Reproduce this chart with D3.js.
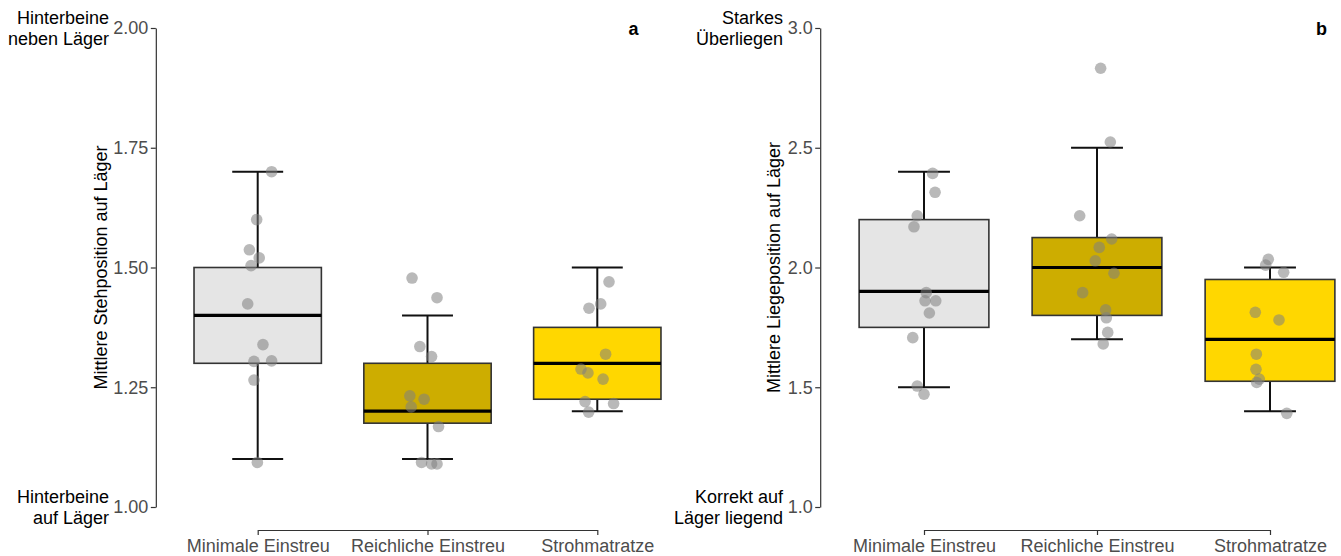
<!DOCTYPE html>
<html>
<head>
<meta charset="utf-8">
<script src="https://cdn.jsdelivr.net/npm/d3@7"></script>
<style>
  body { margin: 0; background: #fff; }
  svg { display: block; font-family: "Liberation Sans", Arial, sans-serif; }
</style>
</head>
<body>
<script>
// Categories and fills
const categories = ['Minimale Einstreu', 'Reichliche Einstreu', 'Strohmatratze'];
const boxFills = ['#e5e5e5', '#cdad00', '#ffd700'];

// Panel a: Stehposition (box stats per category)
const standBoxes = [
  { lo: 1.10, q1: 1.30, med: 1.40, q3: 1.50, hi: 1.70 },
  { lo: 1.10, q1: 1.175, med: 1.20, q3: 1.30, hi: 1.40 },
  { lo: 1.20, q1: 1.225, med: 1.30, q3: 1.375, hi: 1.50 }
];
const standValues = [
  [1.70, 1.60, 1.537, 1.52, 1.504, 1.424, 1.339, 1.304, 1.305, 1.265, 1.093],
  [1.478, 1.437, 1.335, 1.314, 1.232, 1.225, 1.209, 1.168, 1.093, 1.09, 1.09],
  [1.47, 1.424, 1.415, 1.319, 1.288, 1.28, 1.267, 1.22, 1.216, 1.198]
];
// jitter offsets in category units
const standJitter = [
  [0.082, -0.006, -0.049, 0.009, -0.039, -0.059, 0.031, -0.022, 0.082, -0.022, -0.002],
  [-0.091, 0.056, -0.045, 0.024, -0.104, -0.020, -0.096, 0.065, -0.035, 0.024, 0.056],
  [0.069, 0.020, -0.049, 0.049, -0.096, -0.055, 0.034, -0.072, 0.096, -0.051]
];
const standTicks = [1.00, 1.25, 1.50, 1.75, 2.00];

// Panel b: Liegeposition
const lieBoxes = [
  { lo: 1.50, q1: 1.75, med: 1.90, q3: 2.20, hi: 2.40 },
  { lo: 1.70, q1: 1.80, med: 2.00, q3: 2.125, hi: 2.50 },
  { lo: 1.40, q1: 1.525, med: 1.70, q3: 1.95, hi: 2.00 }
];
const lieValues = [
  [2.393, 2.314, 2.216, 2.17, 1.895, 1.861, 1.861, 1.81, 1.707, 1.505, 1.471],
  [2.832, 2.524, 2.216, 2.119, 2.084, 2.028, 1.976, 1.895, 1.823, 1.79, 1.729, 1.681],
  [2.034, 2.01, 1.98, 1.813, 1.781, 1.638, 1.575, 1.534, 1.52, 1.391]
];
const lieJitter = [
  [0.050, 0.064, -0.039, -0.058, 0.013, 0.006, 0.068, 0.031, -0.065, -0.039, 0],
  [0.021, 0.077, -0.100, 0.085, 0.013, -0.010, 0.098, -0.083, 0.050, 0.054, 0.062, 0.036],
  [-0.010, -0.025, 0.079, -0.085, 0.052, -0.079, -0.081, -0.062, -0.077, 0.097]
];
const lieTicks = [1.0, 1.5, 2.0, 2.5, 3.0];

const W = 1341, H = 556;
const plotTop = 28, plotBottom = 507;

const svg = d3.select('body').append('svg')
  .attr('width', W)
  .attr('height', H);

function drawPanel(p) {
  const x = d3.scalePoint().domain(categories).range(p.xRange);
  const step = x.step();
  const x0 = p.xRange[0] - 0.6 * step;
  const y = d3.scaleLinear().domain(p.yDomain).range([plotBottom, plotTop]);
  const g = svg.append('g');

  // axes (capped, classic theme)
  const ya = g.append('g')
    .attr('transform', `translate(${x0},0)`)
    .call(d3.axisLeft(y).tickValues(p.ticks).tickFormat(d3.format(p.fmt))
      .tickSizeInner(5).tickSizeOuter(0).tickPadding(2.5));
  const xa = g.append('g')
    .attr('transform', 'translate(0,530)')
    .call(d3.axisBottom(x).tickSizeInner(5).tickSizeOuter(0).tickPadding(4));

  [ya, xa].forEach(a => {
    a.selectAll('path, line').attr('stroke', '#333').attr('stroke-width', 1.2);
    a.selectAll('text').attr('fill', '#4d4d4d').style('font-size', '18px');
  });

  // boxes with errorbar whiskers
  p.boxes.forEach((b, i) => {
    const cx = x(categories[i]);
    g.append('line')
      .attr('x1', cx).attr('x2', cx)
      .attr('y1', y(b.lo)).attr('y2', y(b.hi))
      .attr('stroke', '#111').attr('stroke-width', 2);
    [b.lo, b.hi].forEach(v => {
      g.append('line')
        .attr('x1', cx - 0.15 * step).attr('x2', cx + 0.15 * step)
        .attr('y1', y(v)).attr('y2', y(v))
        .attr('stroke', '#111').attr('stroke-width', 2);
    });
    g.append('rect')
      .attr('x', cx - 0.375 * step)
      .attr('width', 0.75 * step)
      .attr('y', y(b.q3))
      .attr('height', y(b.q1) - y(b.q3))
      .attr('fill', boxFills[i])
      .attr('stroke', '#333').attr('stroke-width', 1.6);
    g.append('line')
      .attr('x1', cx - 0.375 * step).attr('x2', cx + 0.375 * step)
      .attr('y1', y(b.med)).attr('y2', y(b.med))
      .attr('stroke', '#000').attr('stroke-width', 3.2);
  });

  // jittered points
  p.values.forEach((vals, i) => {
    g.selectAll(null)
      .data(vals.map((v, j) => ({ v, jx: p.jitter[i][j] })))
      .enter()
      .append('circle')
      .attr('cx', d => x(categories[i]) + d.jx * step)
      .attr('cy', d => y(d.v))
      .attr('r', 5.8)
      .attr('fill', '#7f7f7f')
      .attr('fill-opacity', 0.55);
  });

  // end labels next to the extreme ticks
  const endLabel = (lines, v) => {
    const t = g.append('text')
      .attr('text-anchor', 'end')
      .attr('fill', '#000')
      .style('font-size', '18px');
    lines.forEach((s, k) => {
      t.append('tspan')
        .attr('x', p.endX)
        .attr('y', y(v) + (k === 0 ? -4.5 : 16.5))
        .text(s);
    });
  };
  endLabel(p.topLabel, p.yDomain[1]);
  endLabel(p.bottomLabel, p.yDomain[0]);

  // y title
  g.append('text')
    .attr('transform', `translate(${p.titleX},${(plotTop + plotBottom) / 2}) rotate(-90)`)
    .attr('text-anchor', 'middle')
    .attr('fill', '#000')
    .style('font-size', '18px')
    .text(p.title);

  // panel letter
  g.append('text')
    .attr('x', p.letterX)
    .attr('y', 35)
    .attr('text-anchor', 'middle')
    .attr('fill', '#000')
    .style('font-size', '18px')
    .style('font-weight', 'bold')
    .text(p.letter);
}

drawPanel({
  xRange: [257.7, 597.3],
  yDomain: [1, 2],
  ticks: standTicks,
  fmt: '.2f',
  boxes: standBoxes,
  values: standValues,
  jitter: standJitter,
  endX: 109,
  topLabel: ['Hinterbeine', 'neben Läger'],
  bottomLabel: ['Hinterbeine', 'auf Läger'],
  titleX: 107,
  title: 'Mittlere Stehposition auf Läger',
  letterX: 633.5,
  letter: 'a'
});

drawPanel({
  xRange: [924, 1270],
  yDomain: [1, 3],
  ticks: lieTicks,
  fmt: '.1f',
  boxes: lieBoxes,
  values: lieValues,
  jitter: lieJitter,
  endX: 783,
  topLabel: ['Starkes', 'Überliegen'],
  bottomLabel: ['Korrekt auf', 'Läger liegend'],
  titleX: 780,
  title: 'Mittlere Liegeposition auf Läger',
  letterX: 1321.5,
  letter: 'b'
});
</script>
</body>
</html>
